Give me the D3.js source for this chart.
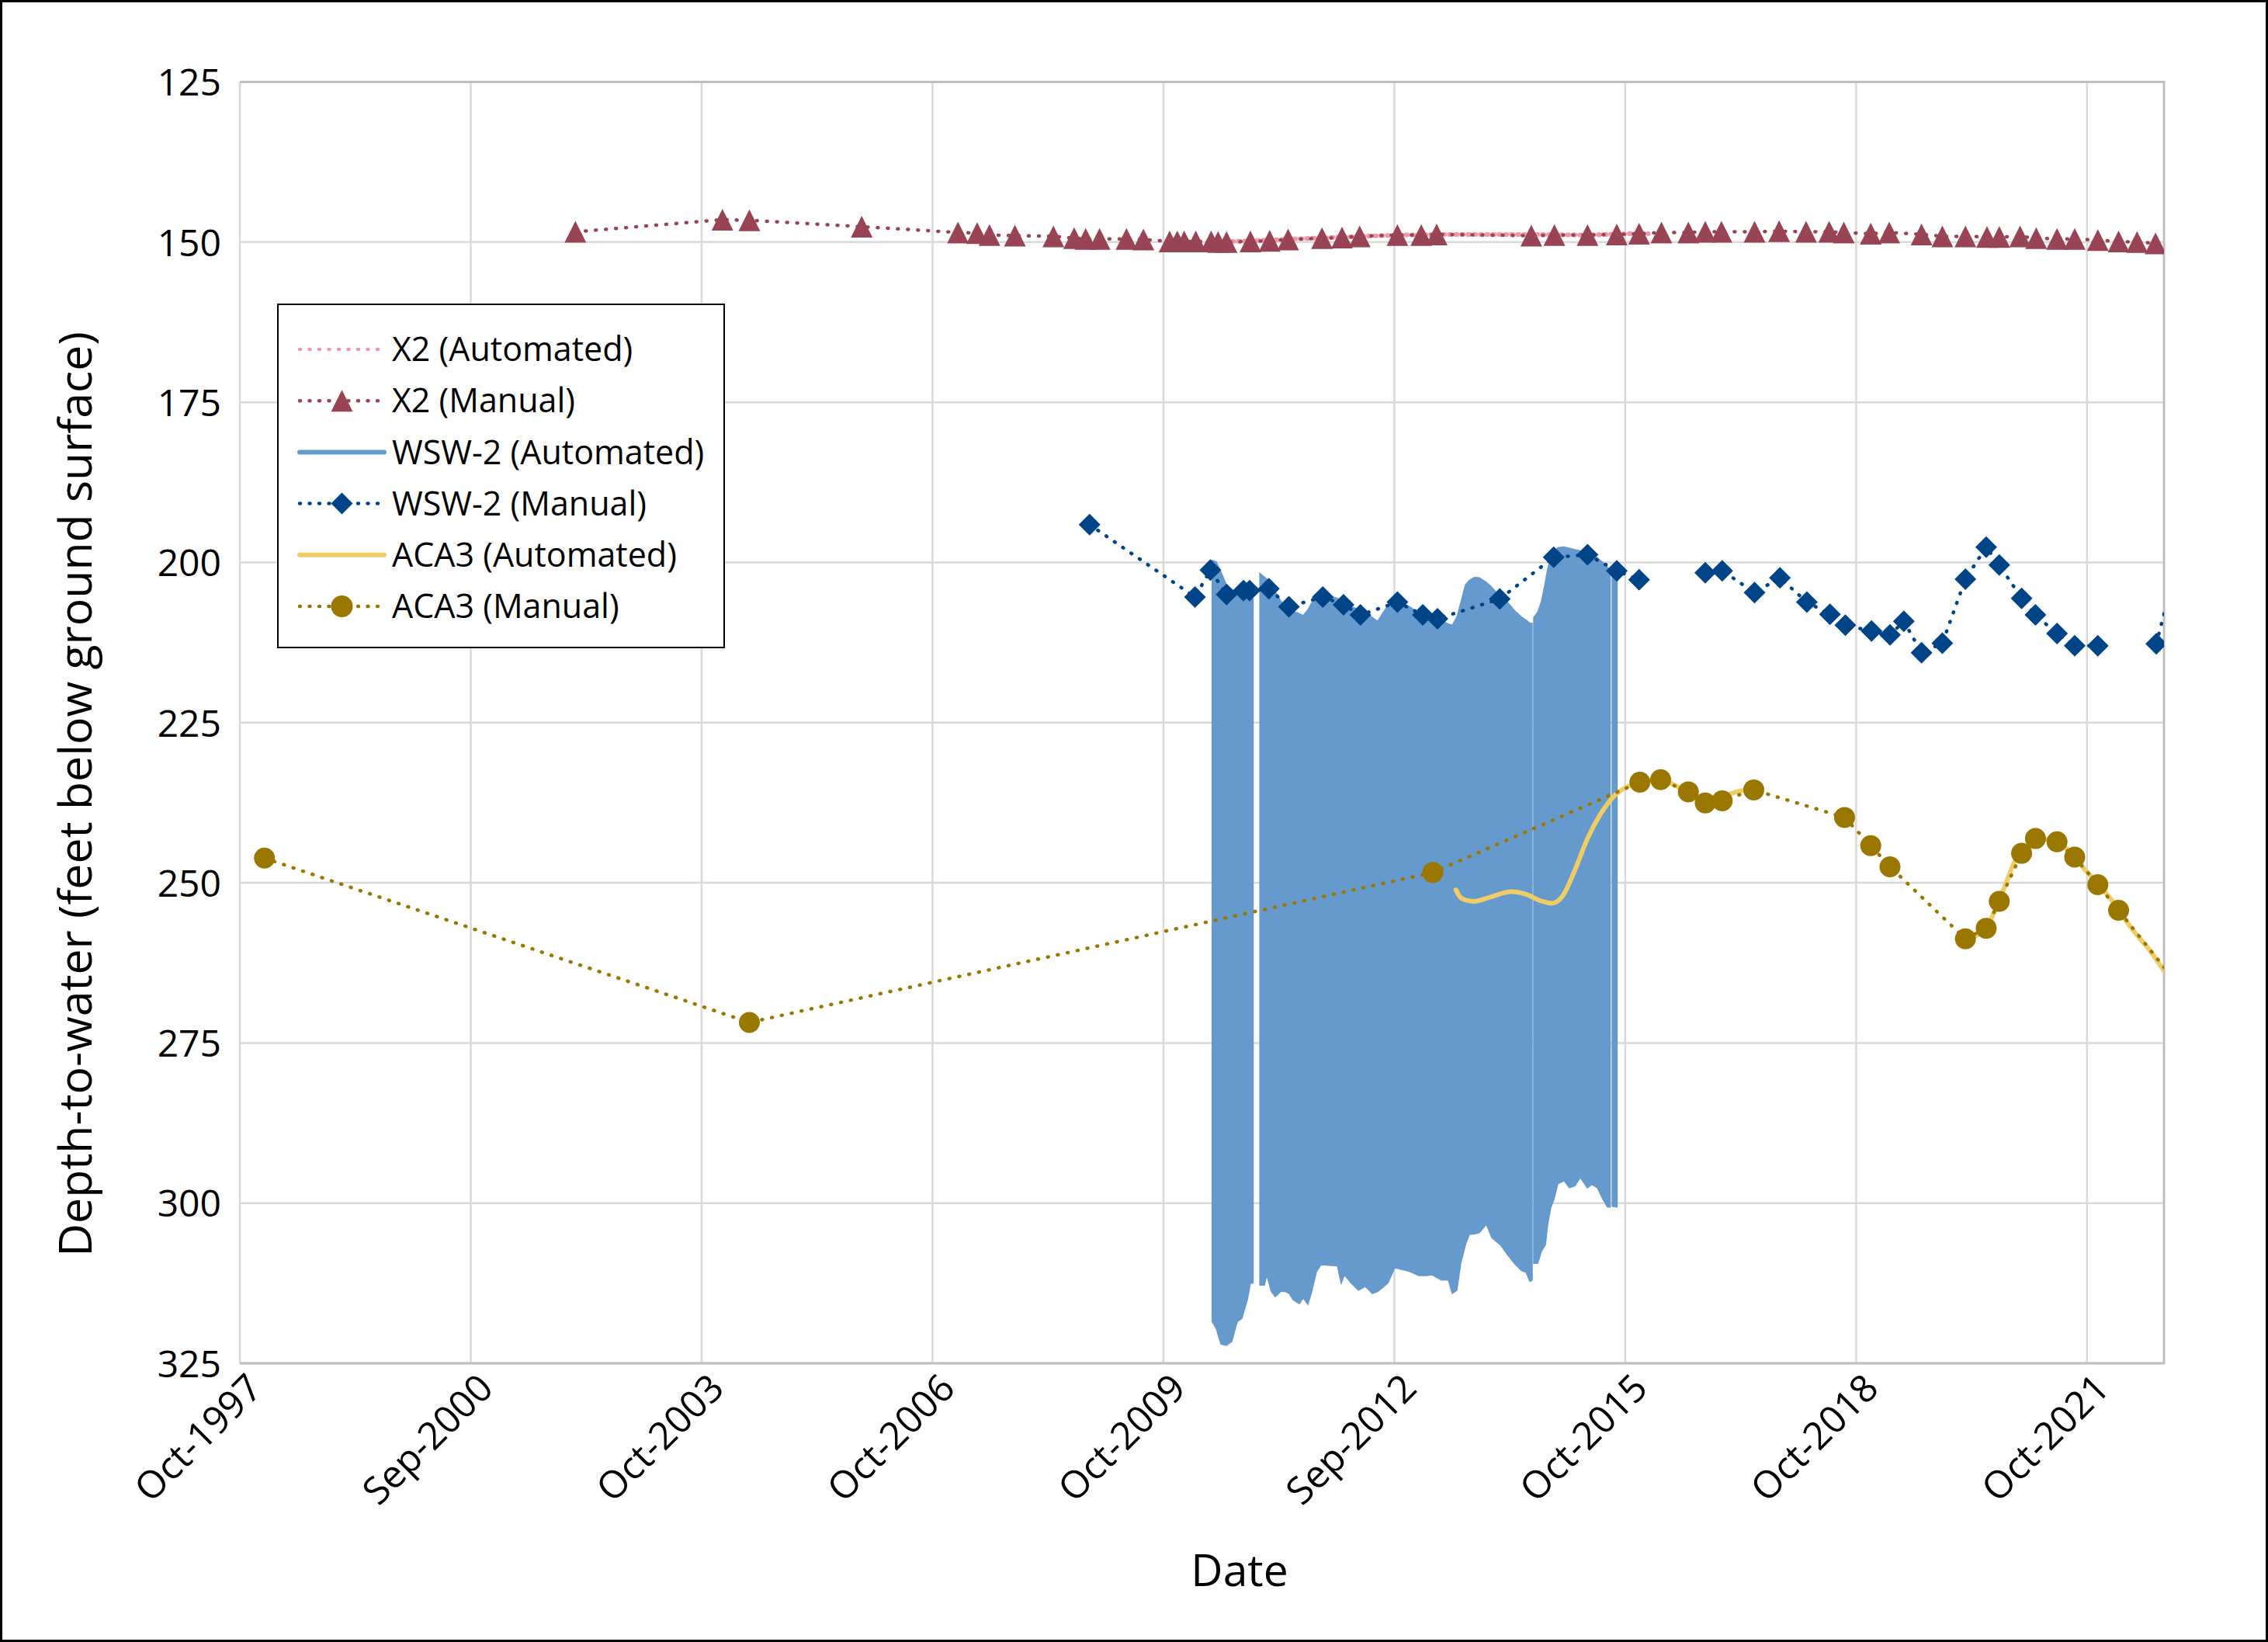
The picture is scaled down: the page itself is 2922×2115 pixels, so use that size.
<!DOCTYPE html>
<html><head><meta charset="utf-8">
<script src="https://cdn.jsdelivr.net/npm/d3@7"></script>
<style>
body{margin:0;background:#fff}
svg{display:block}
text{font-family:"Open Sans","Noto Sans",sans-serif;fill:#000}
</style>
</head><body>
<svg id="chart" width="2922" height="2115"></svg>
<script>
// ---------- axis definitions ----------
const xDomain = [1997.75, 2022.75];           // decimal years (Oct-1997 .. Oct-2022)
const xTickValues = [1997.75, 2000.75, 2003.75, 2006.75, 2009.75, 2012.75, 2015.75, 2018.75, 2021.75];
const xTickLabels = ["Oct-1997","Sep-2000","Oct-2003","Oct-2006","Oct-2009","Sep-2012","Oct-2015","Oct-2018","Oct-2021"];
const yDomain = [125, 325];
const yTickValues = [125, 150, 175, 200, 225, 250, 275, 300, 325];

const seriesNames = ["X2 (Automated)","X2 (Manual)","WSW-2 (Automated)","WSW-2 (Manual)","ACA3 (Automated)","ACA3 (Manual)"];
const seriesColors = ["#EE99AA","#994455","#6699CC","#004488","#EECC66","#997700"];

// ---------- data (decimal year, depth to water in ft) ----------
const x2AutoYears = [2010.4,2010.67,2011.1,2011.58,2012.0,2012.32,2012.79,2013.4,2014.0,2014.5,2015.24,2015.79,2016.05];
const x2AutoDepth = [150.0,149.9,149.7,149.45,149.25,149.1,148.9,148.8,148.8,148.8,148.9,148.7,148.7];

const x2ManualYears = [2002.11,2004.02,2004.37,2005.83,2007.08,2007.33,2007.49,2007.82,2008.32,2008.59,2008.74,2008.92,2009.27,2009.49,2009.83,2009.93,2010.02,2010.17,2010.37,2010.46,2010.57,2010.88,2011.13,2011.37,2011.81,2012.07,2012.3,2012.79,2013.1,2013.3,2014.53,2014.83,2015.26,2015.64,2015.93,2016.22,2016.57,2016.79,2017.0,2017.43,2017.75,2018.1,2018.4,2018.59,2018.94,2019.18,2019.6,2019.87,2020.17,2020.45,2020.61,2020.88,2021.09,2021.36,2021.59,2021.89,2022.16,2022.4,2022.64];
const x2ManualDepth = [148.4,146.5,146.6,147.6,148.5,148.6,148.9,149.0,149.1,149.4,149.5,149.5,149.5,149.6,149.9,149.9,149.9,149.9,149.9,150.0,150.0,149.9,149.8,149.6,149.4,149.3,149.1,148.9,148.9,148.8,149.0,148.9,148.9,148.8,148.7,148.5,148.5,148.4,148.4,148.4,148.3,148.4,148.4,148.5,148.7,148.5,148.8,149.1,149.1,149.2,149.2,149.1,149.4,149.5,149.5,149.7,149.9,150.0,150.2];

// WSW-2 automated: daily record shown as band between shallowest and deepest readings (null = data gap)
const wswAutoYears = [2010.383,2010.437,2010.497,2010.568,2010.638,2010.709,2010.769,2010.840,2010.880,2010.916,null,
  2011.003,2011.062,2011.092,2011.153,2011.203,2011.274,2011.334,2011.385,2011.435,2011.516,2011.566,2011.627,2011.677,2011.738,2011.798,2011.899,2012.010,2012.060,2012.101,2012.191,2012.282,2012.373,2012.464,2012.534,2012.595,2012.665,2012.756,2012.867,2012.958,2013.069,2013.170,2013.240,2013.361,2013.452,2013.502,2013.563,2013.613,2013.674,2013.724,2013.795,2013.855,2013.946,2014.017,2014.128,2014.218,2014.309,2014.400,2014.461,2014.511,2014.541,null,
  2014.561,2014.612,2014.662,2014.713,2014.743,2014.783,2014.824,2014.874,2014.955,2015.025,2015.096,2015.166,2015.257,2015.318,2015.388,2015.459,2015.519,2015.555,null,
  2015.580,2015.645];
const wswAutoShallow = [199.7,199.9,201.5,203.5,204.2,204.8,205.1,205.5,205.7,205.7,null,
  201.7,202.3,202.6,203.8,204.6,206.0,207.1,207.4,207.6,208.0,208.3,207.4,206.3,205.6,205.1,205.2,205.6,205.9,206.1,206.9,207.3,207.9,208.6,209.2,208.0,206.8,205.7,206.4,207.0,207.9,208.4,208.7,209.1,209.6,209.8,208.5,206.3,203.5,202.8,202.3,202.4,203.1,203.9,205.4,206.2,207.5,208.5,209.0,209.5,209.5,null,
  208.6,207.8,206.1,203.0,201.0,199.3,198.5,197.7,197.6,197.8,198.0,198.2,198.4,198.8,199.3,200.0,200.8,201.2,null,
  201.9,202.2];
const wswAutoDeep = [318.5,319.6,322.0,322.2,321.6,318.5,318.0,315.1,312.5,312.5,null,
  312.8,312.8,311.2,313.8,314.6,313.8,313.8,314.1,315.1,315.7,314.8,315.8,313.8,310.7,309.6,309.7,309.8,312.5,311.2,312.5,313.6,313.0,314.1,313.8,313.2,312.5,310.1,310.4,310.7,311.3,311.3,311.2,312.0,312.0,314.1,313.6,309.4,306.5,304.9,304.8,304.6,303.3,305.4,306.5,308.0,309.4,310.5,310.8,312.2,312.0,null,
  309.4,309.4,307.5,306.5,303.3,300.7,299.4,297.0,296.5,297.6,297.3,296.0,297.6,297.1,297.6,299.4,300.6,300.6,null,
  300.5,300.6];

const wswManualYears = [2008.79,2010.16,2010.36,2010.57,2010.79,2010.87,2011.12,2011.38,2011.82,2012.09,2012.31,2012.79,2013.12,2013.31,2014.12,2014.82,2015.26,2015.64,2015.93,null,
  2016.79,2017.01,2017.43,2017.76,2018.11,2018.41,2018.61,2018.95,2019.19,2019.37,2019.6,2019.87,2020.17,2020.44,2020.61,2020.9,2021.08,2021.36,2021.59,2021.89,null,
  2022.65,2022.85];
const wswManualDepth = [194.1,205.4,201.2,205.0,204.4,204.4,204.1,206.9,205.4,206.6,208.2,206.2,208.2,208.8,205.7,199.2,198.8,201.3,202.7,null,
  201.6,201.3,204.7,202.4,206.2,208.1,209.8,210.7,211.3,209.2,214.1,212.6,202.6,197.6,200.4,205.6,208.2,211.1,213.0,213.0,null,
  212.7,203.4];

const acaAutoYears = [2013.55,2013.62,2013.78,2013.98,2014.27,2014.46,2014.65,2014.8,2014.94,2015.1,2015.26,2015.42,2015.61,2015.81,2015.95,2016.2,2016.4,2016.55,2016.75,2016.95,2017.2,2017.42,null,
  2020.12,2020.3,2020.45,2020.6,2020.73,2020.8,2020.92,2021.08,2021.25,2021.4,2021.49,2021.6,2021.69,2021.85,2022.05,2022.16,2022.31,2022.45,2022.56,2022.75,2022.8];
const acaAutoDepth = [251.1,252.4,252.9,252.3,251.4,251.8,252.8,253.2,252.0,247.9,243.1,239.45,236.4,234.8,234.2,234.0,234.8,235.8,237.0,236.8,235.8,235.3,null,
  259.2,258.3,256.8,253.0,249.1,246.9,245.0,243.3,243.2,243.8,244.7,246.1,247.5,249.6,252.4,254.2,256.8,258.9,260.45,263.7,264.5];

const acaManualYears = [1998.07,2004.37,2013.25,2015.94,2016.21,2016.57,2016.79,2017.01,2017.42,2018.6,2018.94,2019.19,2020.17,2020.44,2020.61,2020.9,2021.08,2021.36,2021.59,2021.89,2022.16,2022.95];
const acaManualDepth = [246.15,271.8,248.4,234.3,233.9,235.8,237.55,237.2,235.5,239.8,244.2,247.5,258.75,257.1,252.9,245.4,243.1,243.6,246.0,250.3,254.3,266.2];

// ---------- layout ----------
const W = 2922, H = 2115;
const plot = {left: 309, right: 2788, top: 105.5, bottom: 1756};
const svg = d3.select("#chart");
svg.append("rect").attr("x",0).attr("y",0).attr("width",W).attr("height",H).attr("fill","#fff");

const x = d3.scaleLinear().domain(xDomain).range([plot.left, plot.right]);
const y = d3.scaleLinear().domain(yDomain).range([plot.top, plot.bottom]);

svg.append("defs").append("clipPath").attr("id","clip")
  .append("rect").attr("x",plot.left).attr("y",plot.top)
  .attr("width",plot.right-plot.left).attr("height",plot.bottom-plot.top);

// gridlines
const grid = svg.append("g");
grid.selectAll("line.h").data(yTickValues).join("line")
  .attr("x1",plot.left).attr("x2",plot.right)
  .attr("y1",d=>y(d)).attr("y2",d=>y(d))
  .attr("stroke","#D9D9D9").attr("stroke-width",2.5);
grid.selectAll("line.v").data(xTickValues).join("line")
  .attr("x1",d=>x(d)).attr("x2",d=>x(d))
  .attr("y1",plot.top).attr("y2",plot.bottom)
  .attr("stroke","#D9D9D9").attr("stroke-width",2.5);
// plot border (top, right, bottom)
svg.append("path")
  .attr("d",`M${plot.left},${plot.top}H${plot.right}V${plot.bottom}H${plot.left}`)
  .attr("fill","none").attr("stroke","#BFBFBF").attr("stroke-width",3);

// axes via d3 axis generators
const yAxis = d3.axisLeft(y).tickValues(yTickValues).tickSize(0).tickPadding(24);
const yG = svg.append("g").attr("transform",`translate(${plot.left},0)`).call(yAxis);
yG.select(".domain").remove();
yG.selectAll("text").style("font-size","48px").style("font-family",'"Open Sans",sans-serif').attr("fill","#000").attr("dy","0.36em");

const xAxis = d3.axisBottom(x).tickValues(xTickValues).tickSize(0)
  .tickFormat((d,i)=>xTickLabels[i]);
const xG = svg.append("g").attr("transform",`translate(0,${plot.bottom})`).call(xAxis);
xG.select(".domain").remove();
xG.selectAll("text")
  .style("font-size","49px").style("font-family",'"Open Sans",sans-serif').attr("fill","#000")
  .attr("text-anchor","end").attr("x",0).attr("y",0).attr("dy",0)
  .attr("transform","translate(31,35) rotate(-45)");

// axis titles
svg.append("text").attr("x",1597).attr("y",2043).attr("text-anchor","middle")
  .style("font-size","57px").text("Date");
svg.append("text").attr("transform","translate(118,1023) rotate(-90)").attr("text-anchor","middle")
  .style("font-size","59px").text("Depth-to-water (feet below ground surface)");

// ---------- series ----------
const zip = (xs, ys) => xs.map((v,i)=>({x:v, y:ys[i]}));
const lineGen = d3.line().defined(d=>d.x!=null && d.y!=null).x(d=>x(d.x)).y(d=>y(d.y));
const dataG = svg.append("g").attr("clip-path","url(#clip)");
const dotted = {dash:"1 12", cap:"round", width:4.5};

// X2 automated
dataG.append("path").datum(zip(x2AutoYears,x2AutoDepth)).attr("d",lineGen)
  .attr("fill","none").attr("stroke",seriesColors[0]).attr("stroke-width",6)
  .attr("stroke-dasharray","2 6").attr("stroke-linecap","round");
// X2 manual
dataG.append("path").datum(zip(x2ManualYears,x2ManualDepth)).attr("d",lineGen)
  .attr("fill","none").attr("stroke",seriesColors[1]).attr("stroke-width",dotted.width)
  .attr("stroke-dasharray",dotted.dash).attr("stroke-linecap",dotted.cap);
// WSW-2 automated band
const wswAuto = wswAutoYears.map((v,i)=>({x:v, top:wswAutoShallow[i], bot:wswAutoDeep[i]}));
const areaGen = d3.area().defined(d=>d.x!=null).x(d=>x(d.x)).y0(d=>y(d.bot)).y1(d=>y(d.top));
dataG.append("path").datum(wswAuto).attr("d",areaGen)
  .attr("fill",seriesColors[2]).attr("stroke",seriesColors[2]).attr("stroke-width",1.5);
// WSW-2 manual
dataG.append("path").datum(zip(wswManualYears,wswManualDepth)).attr("d",lineGen)
  .attr("fill","none").attr("stroke",seriesColors[3]).attr("stroke-width",dotted.width)
  .attr("stroke-dasharray",dotted.dash).attr("stroke-linecap",dotted.cap);
// ACA3 automated
dataG.append("path").datum(zip(acaAutoYears,acaAutoDepth)).attr("d",lineGen.curve(d3.curveMonotoneX))
  .attr("fill","none").attr("stroke",seriesColors[4]).attr("stroke-width",6).attr("stroke-linecap","round");
lineGen.curve(d3.curveLinear);
// ACA3 manual
dataG.append("path").datum(zip(acaManualYears,acaManualDepth)).attr("d",lineGen)
  .attr("fill","none").attr("stroke",seriesColors[5]).attr("stroke-width",dotted.width)
  .attr("stroke-dasharray",dotted.dash).attr("stroke-linecap",dotted.cap);

// markers
const triPath = "M0,-14L14,14L-14,14Z";
const diaPath = "M0,-14L14,0L0,14L-14,0Z";
const inPlot = d => d.x!=null && d.y!=null && x(d.x) <= plot.right + 0.5;
dataG.selectAll("path.tri").data(zip(x2ManualYears,x2ManualDepth).filter(inPlot)).join("path")
  .attr("class","tri").attr("d",triPath).attr("transform",d=>`translate(${x(d.x)},${y(d.y)})`)
  .attr("fill",seriesColors[1]);
dataG.selectAll("path.dia").data(zip(wswManualYears,wswManualDepth).filter(inPlot)).join("path")
  .attr("class","dia").attr("d",diaPath).attr("transform",d=>`translate(${x(d.x)},${y(d.y)})`)
  .attr("fill",seriesColors[3]);
dataG.selectAll("circle.cir").data(zip(acaManualYears,acaManualDepth).filter(inPlot)).join("circle")
  .attr("class","cir").attr("cx",d=>x(d.x)).attr("cy",d=>y(d.y)).attr("r",13.5)
  .attr("fill",seriesColors[5]);

// ---------- legend ----------
const lg = svg.append("g");
lg.append("rect").attr("x",358).attr("y",392).attr("width",575).attr("height",442)
  .attr("fill","#fff").attr("stroke","#000").attr("stroke-width",2);
const legendRowY = d3.range(6).map(i=>450 + i*66.2);
const lx0 = 386, lx1 = 495, lmx = 440.5;
seriesNames.forEach((name,i)=>{
  const cy = legendRowY[i];
  const ln = lg.append("line").attr("x1",lx0).attr("x2",lx1).attr("y1",cy).attr("y2",cy)
    .attr("stroke",seriesColors[i]);
  if (i===2 || i===4) ln.attr("stroke-width",6).attr("stroke-linecap","round");
  else ln.attr("stroke-width",dotted.width).attr("stroke-dasharray","1 11.5").attr("stroke-linecap","round");
  if (i===1) lg.append("path").attr("d",triPath).attr("transform",`translate(${lmx},${cy})`).attr("fill",seriesColors[i]);
  if (i===3) lg.append("path").attr("d",diaPath).attr("transform",`translate(${lmx},${cy})`).attr("fill",seriesColors[i]);
  if (i===5) lg.append("circle").attr("cx",lmx).attr("cy",cy).attr("r",14).attr("fill",seriesColors[i]);
  lg.append("text").attr("x",505).attr("y",cy+15.2).style("font-size","43px").text(name);
});

// outer border
svg.append("rect").attr("x",1.5).attr("y",1.5).attr("width",W-3).attr("height",H-3)
  .attr("fill","none").attr("stroke","#000").attr("stroke-width",3);
</script>
</body></html>
